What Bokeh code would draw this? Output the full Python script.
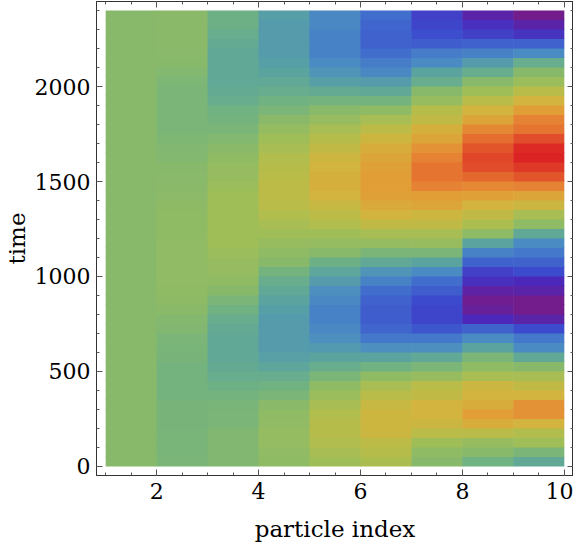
from bokeh.plotting import figure
from bokeh.models import (LinearAxis, SingleIntervalTicker, ColumnDataSource,
                          LinearColorMapper, Range1d, CustomJSTickFormatter)
from bokeh.embed import file_html
from bokeh.resources import INLINE

# ---------------- data ----------------
particle_index = [1, 2, 3, 4, 5, 6, 7, 8, 9]
time_step = 50  # each row spans 50 time units, 48 rows from t=0 to t=2400

# values per column, bottom (t=0) to top (t=2400)
c1 = [0.0, 0.0, 0.0, 0.0, 0.0, 0.0, 0.0, 0.0, 0.0, 0.0, 0.0, 0.0,
      0.0, 0.0, 0.0, 0.0, 0.0, 0.0, 0.0, 0.0, 0.0, 0.0, 0.0, 0.0,
      0.0, 0.0, 0.0, 0.0, 0.0, 0.0, 0.0, 0.0, 0.0, 0.0, 0.0, 0.0,
      0.0, 0.0, 0.0, 0.0, 0.0, 0.0, 0.0, 0.0, 0.0, 0.0, 0.0, 0.0]
c2 = [-0.05, -0.06, -0.06, -0.06, -0.07, -0.07, -0.07, -0.08, -0.08, -0.08, -0.08, -0.07,
      -0.06, -0.05, -0.03, -0.01, 0.02, 0.04, 0.05, 0.06, 0.06, 0.06, 0.06, 0.06,
      0.05, 0.05, 0.05, 0.04, 0.03, 0.02, 0.01, 0.0, -0.02, -0.03, -0.04, -0.05,
      -0.05, -0.05, -0.05, -0.05, -0.04, -0.02, 0.0, 0.01, 0.02, 0.02, 0.02, 0.02]
c3 = [-0.03, -0.03, -0.03, -0.03, -0.05, -0.05, -0.06, -0.08, -0.12, -0.15, -0.18, -0.2,
      -0.2, -0.2, -0.18, -0.15, -0.1, -0.05, 0.0, 0.05, 0.08, 0.1, 0.12, 0.15,
      0.15, 0.15, 0.15, 0.15, 0.15, 0.12, 0.1, 0.08, 0.05, 0.02, -0.02, -0.05,
      -0.08, -0.1, -0.15, -0.18, -0.2, -0.2, -0.2, -0.2, -0.18, -0.15, -0.12, -0.12]
c4 = [0.05, 0.06, 0.08, 0.08, 0.06, 0.05, 0.02, -0.05, -0.1, -0.15, -0.22, -0.27,
      -0.3, -0.3, -0.3, -0.3, -0.28, -0.25, -0.2, -0.15, -0.08, 0.0, 0.05, 0.1,
      0.15, 0.2, 0.25, 0.3, 0.32, 0.32, 0.3, 0.28, 0.25, 0.2, 0.15, 0.08,
      0.02, -0.05, -0.1, -0.15, -0.2, -0.25, -0.28, -0.3, -0.3, -0.3, -0.3, -0.28]
c5 = [0.15, 0.2, 0.25, 0.28, 0.28, 0.25, 0.2, 0.12, 0.05, -0.05, -0.15, -0.25,
      -0.32, -0.38, -0.42, -0.45, -0.45, -0.42, -0.38, -0.3, -0.22, -0.12, 0.0, 0.08,
      0.15, 0.25, 0.32, 0.38, 0.45, 0.48, 0.48, 0.45, 0.42, 0.35, 0.28, 0.2,
      0.1, 0.02, -0.08, -0.18, -0.28, -0.35, -0.4, -0.45, -0.45, -0.45, -0.42, -0.42]
c6 = [0.22, 0.28, 0.32, 0.4, 0.42, 0.42, 0.38, 0.3, 0.2, 0.05, -0.1, -0.25,
      -0.38, -0.5, -0.58, -0.62, -0.62, -0.6, -0.55, -0.45, -0.35, -0.2, -0.05, 0.08,
      0.2, 0.35, 0.45, 0.52, 0.58, 0.6, 0.6, 0.58, 0.55, 0.5, 0.42, 0.32,
      0.2, 0.05, -0.08, -0.2, -0.3, -0.42, -0.48, -0.55, -0.6, -0.6, -0.58, -0.55]
c7 = [0.0, 0.05, 0.15, 0.3, 0.4, 0.45, 0.45, 0.35, 0.3, 0.1, -0.05, -0.2,
      -0.38, -0.5, -0.65, -0.72, -0.72, -0.7, -0.62, -0.55, -0.4, -0.25, -0.05, 0.1,
      0.2, 0.35, 0.42, 0.55, 0.6, 0.72, 0.78, 0.78, 0.72, 0.65, 0.55, 0.48,
      0.35, 0.28, 0.1, 0.0, -0.15, -0.25, -0.4, -0.48, -0.62, -0.68, -0.72, -0.75]
c8 = [-0.1, 0.0, 0.1, 0.3, 0.5, 0.6, 0.5, 0.45, 0.4, 0.2, 0.05, -0.05,
      -0.25, -0.4, -0.6, -0.85, -0.95, -0.98, -0.92, -0.82, -0.75, -0.6, -0.45, -0.25,
      0.05, 0.22, 0.35, 0.45, 0.58, 0.7, 0.82, 0.9, 0.92, 0.88, 0.8, 0.7,
      0.55, 0.45, 0.3, 0.15, 0.0, -0.15, -0.3, -0.45, -0.6, -0.75, -0.82, -0.9]
c9 = [-0.2, -0.05, 0.15, 0.25, 0.45, 0.65, 0.65, 0.45, 0.35, 0.2, 0.0, -0.2,
      -0.4, -0.5, -0.7, -0.9, -1.0, -1.0, -0.9, -0.85, -0.7, -0.6, -0.5, -0.4,
      -0.2, 0.05, 0.2, 0.4, 0.55, 0.72, 0.88, 0.95, 1.0, 0.98, 0.9, 0.78,
      0.72, 0.6, 0.45, 0.3, 0.12, 0.0, -0.15, -0.4, -0.6, -0.8, -0.9, -1.0]
columns = [c1, c2, c3, c4, c5, c6, c7, c8, c9]

# ---------------- colour scale (Rainbow-like) ----------------
stops = [(-1.00, (115, 28, 140)), (-0.85, (75, 40, 185)), (-0.70, (60, 75, 205)),
         (-0.55, (65, 110, 205)), (-0.40, (75, 140, 195)), (-0.25, (90, 163, 160)),
         (-0.10, (112, 178, 130)), (0.00, (135, 185, 107)), (0.15, (160, 190, 88)),
         (0.30, (185, 188, 72)), (0.45, (210, 180, 62)), (0.60, (225, 158, 55)),
         (0.75, (230, 125, 50)), (0.90, (225, 80, 42)), (1.00, (220, 35, 35))]


def color_at(v):
    for (a, ca), (b, cb) in zip(stops[:-1], stops[1:]):
        if a <= v <= b:
            f = (v - a) / (b - a)
            r, g, bl = (round(ca[i] + f * (cb[i] - ca[i])) for i in range(3))
            return "#%02x%02x%02x" % (r, g, bl)
    return "#%02x%02x%02x" % stops[-1][1]


palette = [color_at(-1 + 2 * i / 255) for i in range(256)]
mapper = LinearColorMapper(palette=palette, low=-1, high=1)

n_rows = len(c1)
left, right, bottom, top, vals = [], [], [], [], []
for ci, (xi, col) in enumerate(zip(particle_index, columns)):
    for k, v in enumerate(col):
        left.append(xi)
        # tiny overlap with the next cell to hide anti-aliasing seams
        right.append(xi + 1 + (0.01 if ci < len(columns) - 1 else 0))
        bottom.append(k * time_step)
        top.append((k + 1) * time_step + (4 if k < n_rows - 1 else 0))
        vals.append(v)
src = ColumnDataSource(dict(left=left, right=right, bottom=bottom, top=top, value=vals))

# ---------------- figure ----------------
FONT = "DejaVu Serif"
p = figure(width=573, height=544, x_range=Range1d(0.82, 10.18), y_range=Range1d(-48, 2448),
           output_backend="svg", toolbar_location=None,
           min_border_left=90, min_border_right=0, min_border_top=1, min_border_bottom=60,
           background_fill_color="white", border_fill_color="white")
p.grid.visible = False
p.outline_line_color = "#333333"

p.quad(left="left", right="right", bottom="bottom", top="top", source=src,
       fill_color={"field": "value", "transform": mapper}, line_color=None)

p.xaxis.ticker = SingleIntervalTicker(interval=2, num_minor_ticks=4)
p.yaxis.ticker = SingleIntervalTicker(interval=500, num_minor_ticks=5)
p.xaxis.axis_label = "particle index"
p.yaxis.axis_label = "time"


def style(ax):
    ax.axis_line_color = "#333333"
    ax.major_tick_line_color = "#555555"
    ax.minor_tick_line_color = "#555555"
    ax.major_tick_in = 6
    ax.major_tick_out = 0
    ax.minor_tick_in = 3
    ax.minor_tick_out = 0
    ax.major_label_text_font = FONT
    ax.major_label_text_font_size = "22px"
    ax.major_label_text_color = "black"
    ax.major_label_text_line_height = 1.0
    ax.axis_label_text_font = FONT
    ax.axis_label_text_font_style = "normal"
    ax.axis_label_text_font_size = "23px"
    ax.axis_label_text_color = "black"
    ax.axis_label_text_line_height = 1.0


for ax in p.xaxis:
    style(ax)
    ax.major_label_standoff = 7
    ax.axis_label_standoff = 14
for ax in p.yaxis:
    style(ax)
    ax.major_label_standoff = 6
    ax.axis_label_standoff = 2

blank = CustomJSTickFormatter(code="return '';")
top_ax = LinearAxis(ticker=SingleIntervalTicker(interval=2, num_minor_ticks=4), formatter=blank)
right_ax = LinearAxis(ticker=SingleIntervalTicker(interval=500, num_minor_ticks=5), formatter=blank)
for ax in (top_ax, right_ax):
    style(ax)
    ax.major_label_standoff = 0
p.add_layout(top_ax, "above")
p.add_layout(right_ax, "right")

open("out.html", "w").write(file_html(p, INLINE))
